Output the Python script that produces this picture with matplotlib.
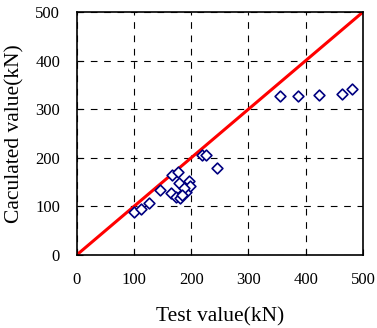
import matplotlib
matplotlib.use('Agg')
from matplotlib import pyplot as plt

test_value = [100, 113, 126, 146, 164, 167, 177, 173, 181, 179, 185, 191, 197, 198,
              187, 184, 219, 226, 245, 355, 387, 423, 463, 480]
calc_value = [89, 95, 107, 134, 128, 165, 170, 120, 117, 148, 127, 130, 153, 142,
              138, 124, 206, 206, 178, 328, 328, 330, 332, 342]

plt.rcParams['font.family'] = ['Liberation Serif', 'DejaVu Serif']

fig = plt.figure(figsize=(3.77, 3.28), dpi=100)
ax = fig.add_axes([0.2034, 0.2226, 0.7594, 0.7408])

ax.plot([0, 500], [0, 500], color='red', lw=2.2, zorder=2)
ax.scatter(test_value, calc_value, marker='D', s=30, facecolors='white',
           edgecolors='navy', linewidths=1.2, zorder=3)

ax.set_xlim(0, 500)
ax.set_ylim(0, 500)
ax.set_xticks(range(0, 501, 100))
ax.set_yticks(range(0, 501, 100))
ax.grid(True, color='black', linestyle=(0, (6, 6)), lw=0.8)
ax.tick_params(direction='in', length=4, labelsize=12, pad=12)
for s in ax.spines.values():
    s.set_linewidth(1.2)

ax.set_xlabel('Test value(kN)', fontsize=15.5, labelpad=14)
ax.set_ylabel('Caculated value(kN)', fontsize=15.5, labelpad=8)

fig.savefig('out.png', dpi=100)
